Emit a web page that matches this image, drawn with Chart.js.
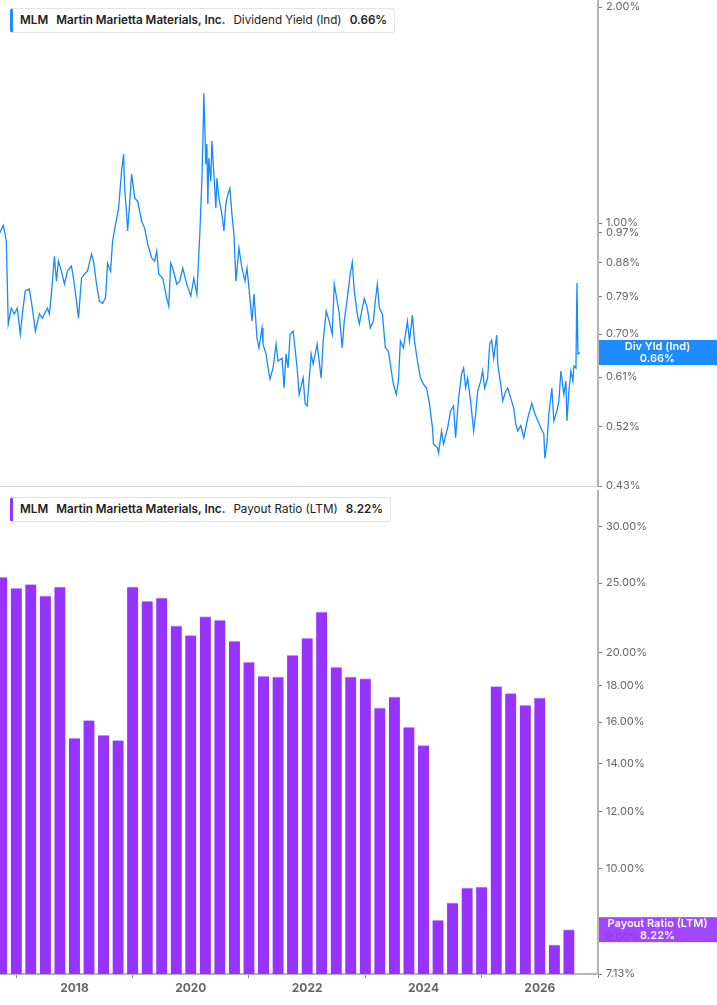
<!DOCTYPE html>
<html>
<head>
<meta charset="utf-8">
<script src="https://cdn.jsdelivr.net/npm/chart.js@4.4.1/dist/chart.umd.min.js"></script>
<style>
  html, body { margin: 0; padding: 0; background: #fff; }
  body { width: 717px; height: 1005px; position: relative; overflow: hidden; font-family: Inter, "Noto Sans", sans-serif; }
  canvas { position: absolute; left: 0; }
  #yieldCanvas { top: 0; }
  #payoutCanvas { top: 490px; }
  .legend {
    position: absolute; left: 10px; height: 25px; box-sizing: border-box;
    border: 1px solid #e4e4e4; border-left: 3px solid #1e8cff; border-radius: 3px;
    background: #fff; font-size: 11.7px; color: #222; line-height: 23px;
    padding: 0 7px 0 7px; white-space: nowrap;
  }
  .legend b { font-weight: 600; }
  .legend span { margin-left: 8px; }
  #yieldLegend { top: 8px; }
  #payoutLegend { top: 497px; border-left-color: #9633ff; }
</style>
</head>
<body>
<canvas id="yieldCanvas" width="717" height="492"></canvas>
<canvas id="payoutCanvas" width="717" height="515"></canvas>
<div class="legend" id="yieldLegend"><b>MLM</b><span><b>Martin Marietta Materials, Inc.</b></span><span>Dividend Yield (Ind)</span><span><b>0.66%</b></span></div>
<div class="legend" id="payoutLegend"><b>MLM</b><span><b>Martin Marietta Materials, Inc.</b></span><span>Payout Ratio (LTM)</span><span><b>8.22%</b></span></div>
<script>
// dividend yield (ind), % -- dates as fractional years
const yieldDates = [
  2016.707, 2016.776, 2016.828, 2016.845, 2016.862, 2016.914, 2016.966, 2017.017, 2017.069, 2017.104,
  2017.155, 2017.224, 2017.276, 2017.328, 2017.397, 2017.448, 2017.535, 2017.569, 2017.603, 2017.655,
  2017.690, 2017.724, 2017.776, 2017.828, 2017.879, 2017.948, 2017.983, 2018.035, 2018.069, 2018.121,
  2018.172, 2018.224, 2018.293, 2018.328, 2018.379, 2018.431, 2018.483, 2018.534, 2018.569, 2018.621,
  2018.655, 2018.707, 2018.759, 2018.810, 2018.845, 2018.862, 2018.897, 2018.914, 2018.948, 2018.983,
  2019.035, 2019.086, 2019.155, 2019.207, 2019.259, 2019.328, 2019.379, 2019.414, 2019.448, 2019.517,
  2019.586, 2019.621, 2019.655, 2019.690, 2019.759, 2019.810, 2019.862, 2019.931, 2020.000, 2020.052,
  2020.104, 2020.155, 2020.190, 2020.207, 2020.224, 2020.259, 2020.276, 2020.293, 2020.310, 2020.345,
  2020.362, 2020.397, 2020.431, 2020.448, 2020.483, 2020.534, 2020.569, 2020.603, 2020.638, 2020.672,
  2020.707, 2020.741, 2020.776, 2020.828, 2020.879, 2020.931, 2020.966, 2021.000, 2021.052, 2021.086,
  2021.138, 2021.172, 2021.224, 2021.241, 2021.293, 2021.328, 2021.362, 2021.414, 2021.466, 2021.500,
  2021.569, 2021.603, 2021.638, 2021.672, 2021.707, 2021.759, 2021.828, 2021.862, 2021.931, 2021.966,
  2022.000, 2022.069, 2022.104, 2022.172, 2022.241, 2022.276, 2022.328, 2022.379, 2022.431, 2022.466,
  2022.517, 2022.552, 2022.603, 2022.638, 2022.690, 2022.741, 2022.776, 2022.810, 2022.862, 2022.897,
  2022.948, 2022.983, 2023.034, 2023.086, 2023.138, 2023.172, 2023.207, 2023.241, 2023.293, 2023.345,
  2023.397, 2023.448, 2023.483, 2023.534, 2023.569, 2023.603, 2023.655, 2023.724, 2023.759, 2023.810,
  2023.845, 2023.897, 2023.948, 2024.000, 2024.052, 2024.103, 2024.155, 2024.172, 2024.241, 2024.259,
  2024.310, 2024.345, 2024.414, 2024.466, 2024.517, 2024.552, 2024.603, 2024.655, 2024.690, 2024.724,
  2024.759, 2024.810, 2024.862, 2024.897, 2024.931, 2024.983, 2025.017, 2025.052, 2025.103, 2025.138,
  2025.172, 2025.207, 2025.259, 2025.276, 2025.328, 2025.362, 2025.414, 2025.448, 2025.500, 2025.552,
  2025.586, 2025.621, 2025.672, 2025.724, 2025.793, 2025.828, 2025.862, 2025.914, 2025.966, 2026.017,
  2026.069, 2026.086, 2026.121, 2026.155, 2026.207, 2026.241, 2026.293, 2026.328, 2026.362, 2026.414,
  2026.448, 2026.466, 2026.500, 2026.534, 2026.569, 2026.586, 2026.621, 2026.638, 2026.655, 2026.690
];
const yieldValues = [
  0.966, 0.993, 0.944, 0.830, 0.723, 0.761, 0.747, 0.761, 0.700, 0.747,
  0.804, 0.809, 0.761, 0.707, 0.747, 0.737, 0.761, 0.747, 0.796, 0.899,
  0.830, 0.885, 0.857, 0.822, 0.857, 0.871, 0.838, 0.778, 0.737, 0.838,
  0.849, 0.857, 0.905, 0.885, 0.822, 0.778, 0.773, 0.786, 0.879, 0.857,
  0.944, 0.996, 1.049, 1.181, 1.248, 1.118, 1.029, 0.975, 1.063, 1.170,
  1.083, 1.073, 1.006, 0.984, 0.935, 0.894, 0.885, 0.914, 0.849, 0.838,
  0.786, 0.766, 0.879, 0.865, 0.822, 0.830, 0.865, 0.822, 0.791, 0.838,
  0.796, 0.966, 1.144, 1.289, 1.517, 1.208, 1.289, 1.063, 1.232, 1.144,
  1.301, 1.170, 1.049, 1.155, 1.083, 1.029, 0.975, 1.063, 1.097, 1.118,
  1.029, 0.966, 0.830, 0.923, 0.865, 0.830, 0.865, 0.811, 0.730, 0.796,
  0.691, 0.670, 0.714, 0.678, 0.657, 0.628, 0.606, 0.628, 0.678, 0.642,
  0.648, 0.589, 0.657, 0.628, 0.700, 0.707, 0.628, 0.577, 0.608, 0.560,
  0.556, 0.657, 0.636, 0.678, 0.608, 0.685, 0.754, 0.730, 0.700, 0.822,
  0.778, 0.747, 0.670, 0.730, 0.786, 0.849, 0.882, 0.804, 0.747, 0.723,
  0.761, 0.784, 0.761, 0.714, 0.730, 0.778, 0.822, 0.761, 0.747, 0.670,
  0.663, 0.622, 0.596, 0.577, 0.602, 0.685, 0.670, 0.730, 0.685, 0.744,
  0.685, 0.642, 0.608, 0.596, 0.589, 0.560, 0.518, 0.492, 0.486, 0.478,
  0.513, 0.492, 0.518, 0.547, 0.556, 0.502, 0.570, 0.616, 0.628, 0.589,
  0.608, 0.565, 0.513, 0.542, 0.583, 0.602, 0.622, 0.589, 0.608, 0.678,
  0.687, 0.648, 0.698, 0.636, 0.596, 0.565, 0.583, 0.589, 0.570, 0.552,
  0.525, 0.513, 0.522, 0.502, 0.535, 0.547, 0.561, 0.542, 0.530, 0.518,
  0.508, 0.470, 0.492, 0.542, 0.589, 0.530, 0.547, 0.565, 0.622, 0.577,
  0.602, 0.530, 0.583, 0.622, 0.602, 0.632, 0.628, 0.825, 0.657, 0.660
];
const yieldTicks = [0.43, 0.52, 0.61, 0.70, 0.79, 0.88, 0.97, 1.00, 2.00];

// payout ratio (LTM), % -- quarterly
const payoutQuarters = [
  2016.75, 2017.00, 2017.25, 2017.50, 2017.75, 2018.00, 2018.25, 2018.50, 2018.75, 2019.00,
  2019.25, 2019.50, 2019.75, 2020.00, 2020.25, 2020.50, 2020.75, 2021.00, 2021.25, 2021.50,
  2021.75, 2022.00, 2022.25, 2022.50, 2022.75, 2023.00, 2023.25, 2023.50, 2023.75, 2024.00,
  2024.25, 2024.50, 2024.75, 2025.00, 2025.25, 2025.50, 2025.75, 2026.00, 2026.25, 2026.50
];
const payoutValues = [
  25.5, 24.6, 24.9, 24.0, 24.7, 15.2, 16.1, 15.35, 15.1, 24.7,
  23.6, 23.85, 21.8, 21.15, 22.45, 22.2, 20.75, 19.4, 18.55, 18.5,
  19.85, 20.95, 22.8, 19.1, 18.5, 18.4, 16.75, 17.35, 15.75, 14.85,
  8.48, 8.96, 9.4, 9.43, 17.95, 17.55, 16.9, 17.3, 7.83, 8.22
];
const payoutTicks = [7.13, 8, 10, 12, 14, 16, 18, 20, 25, 30];
const yearTicks = [2018, 2020, 2022, 2024, 2026];

const yieldLabel = ["Div Yld (Ind)", "0.66%"];
const payoutLabel = ["Payout Ratio (LTM)", "8.22%"];

const blue = "#168aff";
const purple = "#9633ff";
const axisGray = "#b4b4b4";
const tickGray = "#666";

Chart.defaults.font.family = "Inter, 'Noto Sans', sans-serif";
Chart.defaults.color = tickGray;

const setTicks = (list) => (scale) => {
    scale.ticks = list.map((value) => ({ value }));
};

// no extra room for labels that hang over the plot edges
const fitTo = (size) => (scale) => {
    if (scale.isHorizontal()) {
        scale.height = size;
    } else {
        scale.width = size;
    }
    scale.paddingTop = 0;
    scale.paddingBottom = 0;
    scale.paddingLeft = 0;
    scale.paddingRight = 0;
};

// box on the right axis showing the latest value
const lastValueBox = (label, fill) => ({
    id: "lastValueBox",
    afterDraw(chart) {
        const { ctx, chartArea, scales } = chart;
        const data = chart.data.datasets[0].data;
        const last = data[data.length - 1];
        const y = scales.y.getPixelForValue(last.y);
        const h = 25;
        ctx.save();
        ctx.fillStyle = fill;
        ctx.fillRect(chartArea.right + 1, y - h / 2, chart.width - chartArea.right, h);
        ctx.fillStyle = "#fff";
        ctx.font = "600 11px Inter, 'Noto Sans', sans-serif";
        ctx.textAlign = "center";
        ctx.textBaseline = "middle";
        const cx = chartArea.right + (chart.width - chartArea.right) / 2;
        ctx.fillText(label[0], cx, y - 6);
        ctx.fillText(label[1], cx, y + 6);
        ctx.restore();
    }
});

const yAxis = (min, max, ticks) => ({
    type: "logarithmic",
    position: "right",
    min,
    max,
    afterBuildTicks: setTicks(ticks),
    afterFit: fitTo(119),
    border: { color: axisGray, width: 2 },
    grid: { drawOnChartArea: false, tickLength: 4, color: "#777" },
    ticks: {
        autoSkip: false,
        padding: 4,
        font: { size: 11 },
        callback: (v) => Number(v).toFixed(2) + "%"
    }
});

new Chart(document.getElementById("yieldCanvas"), {
    type: "line",
    data: {
        datasets: [{
            data: yieldDates.map((x, i) => ({ x, y: yieldValues[i] })),
            borderColor: blue,
            borderWidth: 1.3,
            pointRadius: 0,
            tension: 0
        }]
    },
    options: {
        responsive: false,
        animation: false,
        layout: { padding: 0 },
        plugins: { legend: { display: false }, tooltip: { enabled: false } },
        scales: {
            x: {
                type: "linear",
                min: 2016.72,
                max: 2027.0,
                afterFit: fitTo(6),
                border: { color: "#d4d4d4", width: 1 },
                grid: { display: false },
                ticks: { display: false }
            },
            y: yAxis(0.43, 2.046, yieldTicks)
        }
    },
    plugins: [lastValueBox(yieldLabel, "rgba(30,140,255,1)")]
});

new Chart(document.getElementById("payoutCanvas"), {
    type: "bar",
    data: {
        datasets: [{
            data: payoutQuarters.map((x, i) => ({ x, y: payoutValues[i] })),
            backgroundColor: purple,
            borderColor: "rgba(205,170,255,0.9)",
            borderWidth: { top: 1, left: 0, right: 0, bottom: 0 },
            borderSkipped: "bottom",
            barThickness: 11
        }]
    },
    options: {
        responsive: false,
        animation: false,
        layout: { padding: 0 },
        plugins: { legend: { display: false }, tooltip: { enabled: false } },
        scales: {
            x: {
                type: "linear",
                min: 2016.72,
                max: 2027.0,
                offset: false,
                afterBuildTicks: setTicks(yearTicks),
                afterFit: fitTo(31),
                border: { color: axisGray, width: 2 },
                grid: { drawOnChartArea: false, tickLength: 4, color: "#888" },
                ticks: {
                    autoSkip: false,
                    maxRotation: 0,
                    padding: 3,
                    font: { size: 12, weight: "bold" },
                    callback: (v) => String(v)
                }
            },
            y: yAxis(7.13, 33.71, payoutTicks)
        }
    },
    plugins: [lastValueBox(payoutLabel, "rgba(150,51,255,0.9)")]
});
</script>
</body>
</html>
